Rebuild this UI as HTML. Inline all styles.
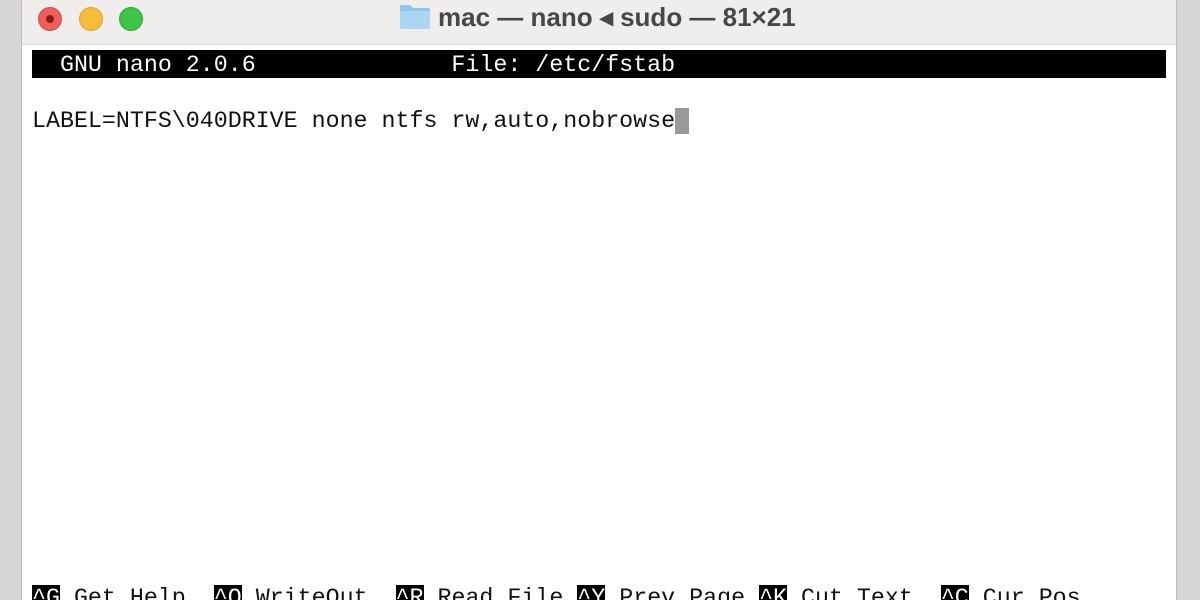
<!DOCTYPE html>
<html style="overflow:hidden;width:1200px;height:600px"><head><meta charset="utf-8"><style>
*{margin:0;padding:0;box-sizing:border-box}
body{width:1200px;height:600px;overflow:hidden;background:#d6d6d6;position:relative;font-family:"Liberation Mono",monospace}
.win{position:absolute;left:21px;top:-10px;width:1156px;height:610px;background:#fff;border:1px solid #bdbdbd;border-bottom:none;border-radius:10px 10px 0 0;overflow:hidden}
.tb{position:absolute;left:0;top:0;width:100%;height:54px;background:#efeeec;border-bottom:1px solid #dcdcdc}
.l{position:absolute;top:16px;width:24px;height:24px;border-radius:50%}
.t{position:absolute;left:438px;top:2px;font:bold 26px "Liberation Sans",sans-serif;color:#474747;white-space:nowrap}
.m{position:absolute;font-size:23.3px;line-height:28px;color:#111;white-space:pre}
.bar{position:absolute;left:32px;top:50px;width:1134px;height:28px;background:#000}
.k{background:#000;color:#fff}
.clip{position:absolute;left:0;top:0;width:1200px;height:600px;overflow:hidden}
</style></head><body>
<div class="clip">
<div class="win">
<div class="tb">
<div class="l" style="left:16px;background:#ed5f57;border:1px solid #d34a42"><div style="position:absolute;left:7px;top:7px;width:8px;height:8px;border-radius:50%;background:#8b1a14"></div></div>
<div class="l" style="left:57px;background:#f6bd3b;border:1px solid #dea42d"></div>
<div class="l" style="left:97px;background:#3ec546;border:1px solid #2ea836"></div>
</div>
</div>
<svg style="position:absolute;left:399px;top:4px" width="32" height="26"><path d="M1 3 Q1 1 3 1 H11 L14 4 H29 Q31 4 31 6 V24 Q31 25 29 25 H3 Q1 25 1 23Z" fill="#8fc6ec"/><rect x="1" y="7" width="30" height="18" rx="2" fill="#a9d6f3"/></svg>
<div class="t" style="position:absolute">mac — nano ◂ sudo — 81×21</div>
<div class="bar"></div>
<div class="m" style="left:32px;top:51px;color:#fff">  GNU nano 2.0.6              File: /etc/fstab</div>
<div class="m" style="left:32px;top:107px">LABEL=NTFS\040DRIVE none ntfs rw,auto,nobrowse<span style="background:#999;color:#999">_</span></div>
<div class="m" style="left:32px;top:584px"><span class="k">^G</span> Get Help  <span class="k">^O</span> WriteOut  <span class="k">^R</span> Read File <span class="k">^Y</span> Prev Page <span class="k">^K</span> Cut Text  <span class="k">^C</span> Cur Pos</div>
</div>
</body></html>
